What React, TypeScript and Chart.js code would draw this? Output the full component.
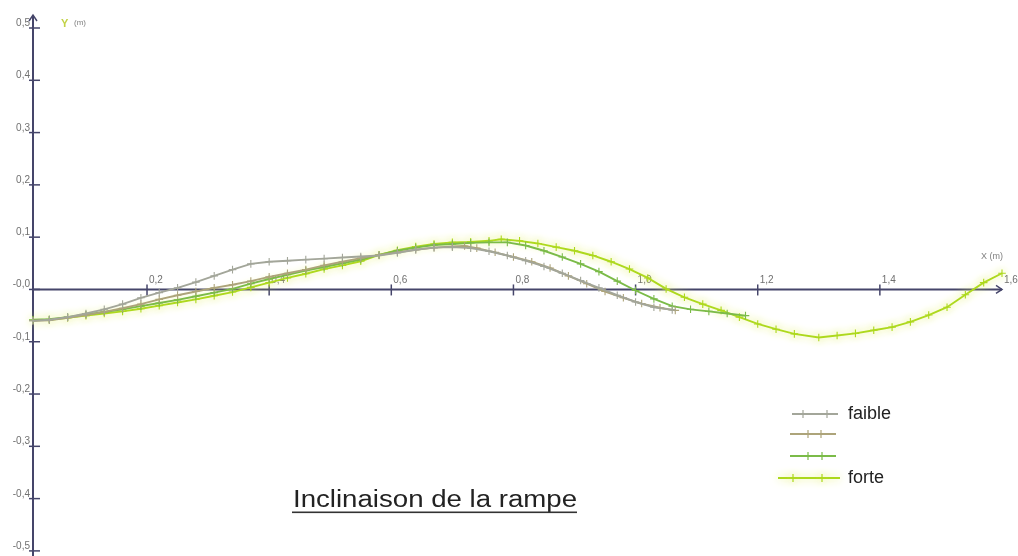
import React, { useEffect, useRef } from "react";
import { Chart, registerables } from "chart.js";

Chart.register(...registerables);

// ---------- data ----------
const X_MIN = 0.0133;
const X_MAX = 1.6;
const Y_MIN = -0.5;
const Y_MAX = 0.5;

const xTickValues = [0.2, 0.4, 0.6, 0.8, 1.0, 1.2, 1.4, 1.6];
const xTickLabels = ["0,2", "0,4", "0,6", "0,8", "1,0", "1,2", "1,4", "1,6"];
const yTickValues = [0.5, 0.4, 0.3, 0.2, 0.1, 0, -0.1, -0.2, -0.3, -0.4, -0.5];
const yTickLabels = ["0,5", "0,4", "0,3", "0,2", "0,1", "-0,0", "-0,1", "-0,2", "-0,3", "-0,4", "-0,5"];

const seriesNames = ["faible", "", "", "forte"];
const seriesColors = ["#a3a69a", "#ada47a", "#7bbb48", "#acd81c"];

const faibleX = [0.013, 0.04, 0.07, 0.1, 0.13, 0.16, 0.19, 0.22, 0.25, 0.28, 0.31, 0.34, 0.37, 0.4, 0.43, 0.46, 0.49, 0.52, 0.55, 0.58, 0.61, 0.64, 0.67, 0.7, 0.73, 0.76, 0.79, 0.82, 0.85, 0.88, 0.91, 0.94, 0.97, 1.0, 1.03, 1.06];
const faibleY = [-0.06, -0.058, -0.053, -0.046, -0.038, -0.028, -0.016, -0.006, 0.003, 0.014, 0.026, 0.038, 0.049, 0.053, 0.055, 0.057, 0.059, 0.061, 0.063, 0.065, 0.07, 0.076, 0.08, 0.081, 0.079, 0.073, 0.065, 0.055, 0.044, 0.031, 0.017, 0.003, -0.011, -0.024, -0.034, -0.039];

const serie2X = [0.013, 0.04, 0.07, 0.1, 0.13, 0.16, 0.19, 0.22, 0.25, 0.28, 0.31, 0.34, 0.37, 0.4, 0.43, 0.46, 0.49, 0.52, 0.55, 0.58, 0.61, 0.64, 0.67, 0.7, 0.72, 0.74, 0.77, 0.8, 0.83, 0.86, 0.89, 0.92, 0.95, 0.98, 1.01, 1.04, 1.065];
const serie2Y = [-0.06, -0.059, -0.054, -0.049, -0.043, -0.036, -0.028, -0.019, -0.011, -0.004, 0.003, 0.009, 0.016, 0.024, 0.031, 0.038, 0.046, 0.053, 0.06, 0.066, 0.071, 0.076, 0.08, 0.082, 0.083, 0.079, 0.071, 0.062, 0.053, 0.041, 0.026, 0.011, -0.004, -0.016, -0.027, -0.035, -0.04];

const serie3X = [0.013, 0.04, 0.07, 0.1, 0.13, 0.16, 0.19, 0.22, 0.25, 0.28, 0.31, 0.34, 0.37, 0.4, 0.43, 0.46, 0.49, 0.52, 0.55, 0.58, 0.61, 0.64, 0.67, 0.7, 0.73, 0.76, 0.79, 0.82, 0.85, 0.88, 0.91, 0.94, 0.97, 1.0, 1.03, 1.06, 1.09, 1.12, 1.15, 1.18];
const serie3Y = [-0.058, -0.057, -0.053, -0.048, -0.043, -0.038, -0.032, -0.026, -0.02, -0.013, -0.006, 0.001, 0.011, 0.02, 0.028, 0.036, 0.043, 0.05, 0.057, 0.066, 0.074, 0.08, 0.085, 0.087, 0.089, 0.09, 0.09, 0.084, 0.074, 0.062, 0.049, 0.034, 0.016, -0.002, -0.018, -0.032, -0.038, -0.042, -0.046, -0.05];

const forteX = [0.013, 0.04, 0.07, 0.1, 0.13, 0.16, 0.19, 0.22, 0.25, 0.28, 0.31, 0.34, 0.37, 0.4, 0.43, 0.46, 0.49, 0.52, 0.55, 0.58, 0.61, 0.64, 0.67, 0.7, 0.73, 0.76, 0.78, 0.81, 0.84, 0.87, 0.9, 0.93, 0.96, 0.99, 1.02, 1.05, 1.08, 1.11, 1.14, 1.17, 1.2, 1.23, 1.26, 1.3, 1.33, 1.36, 1.39, 1.42, 1.45, 1.48, 1.51, 1.54, 1.57, 1.6];
const forteY = [-0.059, -0.058, -0.054, -0.05, -0.046, -0.042, -0.037, -0.031, -0.025, -0.019, -0.012, -0.005, 0.004, 0.013, 0.022, 0.03, 0.039, 0.046, 0.054, 0.066, 0.075, 0.082, 0.087, 0.09, 0.091, 0.093, 0.096, 0.093, 0.088, 0.081, 0.074, 0.065, 0.053, 0.039, 0.022, 0.001, -0.015, -0.028, -0.04, -0.053, -0.066, -0.076, -0.085, -0.092, -0.088, -0.084, -0.078, -0.072, -0.062, -0.049, -0.034, -0.01, 0.013, 0.031];

const titleText = "Inclinaison de la rampe";

const seriesX = [faibleX, serie2X, serie3X, forteX];
const seriesY = [faibleY, serie2Y, serie3Y, forteY];

const AXIS_COLOR = "#45456a";
const TICK_FONT = '10px "Liberation Sans", Arial, sans-serif';
const GLOW = "rgba(228, 240, 100, 0.95)";

function drawCross(ctx: CanvasRenderingContext2D, x: number, y: number, r: number) {
  ctx.beginPath();
  ctx.moveTo(x - r, y);
  ctx.lineTo(x + r, y);
  ctx.moveTo(x, y - r);
  ctx.lineTo(x, y + r);
  ctx.stroke();
}

const axesPlugin = {
  id: "customAxes",
  beforeDatasetsDraw(chart: any) {
    const ctx: CanvasRenderingContext2D = chart.ctx;
    const xs = chart.scales.x;
    const ys = chart.scales.y;
    const xAxisPx = xs.getPixelForValue(X_MIN);
    const xEnd = xs.getPixelForValue(X_MAX);
    const y0 = ys.getPixelForValue(0);
    const yTop = ys.getPixelForValue(Y_MAX);
    ctx.save();
    ctx.strokeStyle = AXIS_COLOR;
    ctx.lineWidth = 2;
    ctx.beginPath();
    ctx.moveTo(xAxisPx, yTop - 13);
    ctx.lineTo(xAxisPx, chart.height);
    ctx.stroke();
    ctx.lineWidth = 1.5;
    ctx.beginPath();
    ctx.moveTo(xAxisPx - 4, yTop - 7);
    ctx.lineTo(xAxisPx, yTop - 13);
    ctx.lineTo(xAxisPx + 4, yTop - 7);
    ctx.stroke();
    ctx.lineWidth = 2;
    ctx.beginPath();
    ctx.moveTo(xAxisPx, y0);
    ctx.lineTo(xEnd, y0);
    ctx.stroke();
    ctx.lineWidth = 1.5;
    ctx.beginPath();
    ctx.moveTo(xEnd - 6, y0 - 4);
    ctx.lineTo(xEnd, y0);
    ctx.lineTo(xEnd - 6, y0 + 4);
    ctx.stroke();
    ctx.lineWidth = 1.5;
    ctx.font = TICK_FONT;
    ctx.fillStyle = "#707070";
    ctx.textAlign = "left";
    ctx.textBaseline = "alphabetic";
    xTickValues.forEach((v, i) => {
      const px = xs.getPixelForValue(v);
      if (i < xTickValues.length - 1) {
        ctx.beginPath();
        ctx.moveTo(px, y0 - 5);
        ctx.lineTo(px, y0 + 6);
        ctx.stroke();
      }
      ctx.fillText(xTickLabels[i], px + 2, y0 - 6);
    });
    ctx.textAlign = "right";
    yTickValues.forEach((v, i) => {
      const py = ys.getPixelForValue(v);
      ctx.beginPath();
      ctx.moveTo(xAxisPx - 4, py);
      ctx.lineTo(xAxisPx + 7, py);
      ctx.stroke();
      ctx.fillText(yTickLabels[i], xAxisPx - 3, py - 2);
    });
    ctx.textAlign = "left";
    ctx.font = 'bold 11px "Liberation Sans", Arial, sans-serif';
    ctx.fillStyle = "#c2d246";
    ctx.fillText("Y", xAxisPx + 28, yTop - 1);
    ctx.font = '8px "Liberation Sans", Arial, sans-serif';
    ctx.fillStyle = "#808080";
    ctx.fillText("(m)", xAxisPx + 41, yTop - 3);
    ctx.font = '9px "Liberation Sans", Arial, sans-serif';
    ctx.textAlign = "right";
    ctx.fillText("X (m)", xEnd + 1, y0 - 30);
    ctx.restore();
  },
  beforeDatasetDraw(chart: any, args: any) {
    if (args.index === 3) {
      const ctx = chart.ctx;
      ctx.save();
      ctx.shadowColor = GLOW;
      ctx.shadowBlur = 9;
    }
  },
  afterDatasetDraw(chart: any, args: any) {
    if (args.index === 3) {
      chart.ctx.restore();
    }
  },
  afterDraw(chart: any) {
    const ctx: CanvasRenderingContext2D = chart.ctx;
    ctx.save();
    const rows = [
      { y: 414, x1: 792, x2: 838, m: [803, 827] },
      { y: 434, x1: 790, x2: 836, m: [808, 821] },
      { y: 456, x1: 790, x2: 836, m: [808, 822] },
      { y: 478, x1: 778, x2: 840, m: [793, 822] },
    ];
    rows.forEach((r, i) => {
      ctx.save();
      if (i === 3) {
        ctx.shadowColor = GLOW;
        ctx.shadowBlur = 9;
      }
      ctx.strokeStyle = seriesColors[i];
      ctx.lineWidth = 1.8;
      ctx.beginPath();
      ctx.moveTo(r.x1, r.y);
      ctx.lineTo(r.x2, r.y);
      ctx.stroke();
      ctx.lineWidth = 1.2;
      r.m.forEach((mx) => drawCross(ctx, mx, r.y, 4));
      ctx.restore();
      if (seriesNames[i]) {
        ctx.font = '18px "Liberation Sans", Arial, sans-serif';
        ctx.fillStyle = "#222222";
        ctx.textAlign = "left";
        ctx.textBaseline = "alphabetic";
        ctx.fillText(seriesNames[i], 848, r.y + 5);
      }
    });
    ctx.font = '23px "Liberation Sans", Arial, sans-serif';
    ctx.fillStyle = "#222222";
    ctx.textAlign = "left";
    ctx.textBaseline = "alphabetic";
    const w = ctx.measureText(titleText).width;
    const targetW = 284;
    ctx.save();
    ctx.translate(293, 507);
    ctx.scale(targetW / w, 1);
    ctx.fillText(titleText, 0, 0);
    ctx.restore();
    ctx.fillStyle = "#333333";
    ctx.fillRect(292, 511.5, targetW + 1, 1.6);
    ctx.restore();
  },
};

export default function App() {
  const canvasRef = useRef<HTMLCanvasElement | null>(null);

  useEffect(() => {
    const canvas = canvasRef.current;
    if (!canvas) return;
    const datasets = seriesX.map((xs, i) => ({
      label: seriesNames[i] || `serie${i + 1}`,
      data: xs.map((x, j) => ({ x, y: seriesY[i][j] })),
      showLine: true,
      borderColor: seriesColors[i],
      backgroundColor: seriesColors[i],
      borderWidth: 1.9,
      pointStyle: "cross" as const,
      pointRadius: 3.8,
      pointBorderWidth: 1.1,
      pointBorderColor: seriesColors[i],
      tension: 0,
      clip: false as const,
    }));
    const chart = new Chart(canvas, {
      type: "scatter",
      data: { datasets },
      options: {
        responsive: false,
        animation: false,
        events: [],
        layout: { padding: { left: 33, right: 16, top: 28, bottom: 4 } },
        plugins: { legend: { display: false }, tooltip: { enabled: false } },
        scales: {
          x: { type: "linear", min: X_MIN, max: X_MAX, display: false },
          y: { type: "linear", min: Y_MIN, max: Y_MAX, display: false },
        },
      },
      plugins: [axesPlugin],
    });
    return () => chart.destroy();
  }, []);

  return (
    <div style={{ position: "fixed", left: 0, top: 0, width: 1018, height: 556, background: "#ffffff" }}>
      <canvas ref={canvasRef} width={1018} height={556} style={{ display: "block" }} />
    </div>
  );
}
